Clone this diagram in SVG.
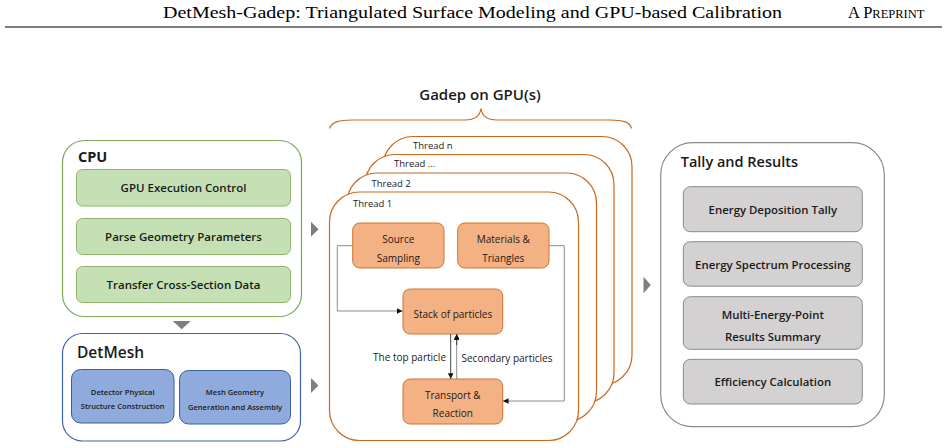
<svg xmlns="http://www.w3.org/2000/svg" width="948" height="448" viewBox="0 0 948 448">
<defs>
<style>
.t{font-family:"Open Sans","Noto Sans",sans-serif;fill:#1a1a1a;}
.hdr{font-family:"Liberation Serif","Times New Roman",serif;fill:#000;}
.green{fill:#c5e0b4;stroke:#8db56c;stroke-width:1;}
.blue{fill:#8faadc;stroke:#3a5f9e;stroke-width:1;}
.orange{fill:#f4b183;stroke:#d0742f;stroke-width:1;}
.gray{fill:#d3d1d1;stroke:#8a8a8a;stroke-width:1;}
.thread{fill:#fff;stroke:#c8691f;stroke-width:1.2;}
.conn{fill:none;stroke:#8c8c8c;stroke-width:1;}
.conn2{fill:none;stroke:#333;stroke-width:0.9;}
.tri{fill:#7f7f7f;}
</style>
<marker id="ah" viewBox="0 0 10 10" refX="10" refY="5" markerWidth="5.5" markerHeight="5.5" orient="auto" markerUnits="userSpaceOnUse"><path d="M0,0 L10,5 L0,10 z" fill="#111"/></marker>
</defs>
<rect width="948" height="448" fill="#fff"/>

<g id="header">
<text class="hdr" x="163" y="18" font-size="16.5" textLength="619" lengthAdjust="spacingAndGlyphs">DetMesh-Gadep: Triangulated Surface Modeling and GPU-based Calibration</text>
<text class="hdr" x="848" y="18" font-size="16.5">A P<tspan font-size="12.5">REPRINT</tspan></text>
<line x1="5" y1="27" x2="942" y2="27" stroke="#000" stroke-width="1.2"/>
</g>

<g id="cpu">
<rect x="62.5" y="140.5" width="239" height="176" rx="22" fill="#fff" stroke="#7aa856" stroke-width="1.2"/>
<text class="t" x="78" y="162" font-size="14.5" font-weight="700">CPU</text>
<g id="cpu-exec"><rect class="green" x="76.5" y="169.5" width="214" height="36.5" rx="6"/>
<text class="t" x="183.5" y="192" font-size="11.5" font-weight="600" text-anchor="middle">GPU Execution Control</text></g>
<g id="cpu-parse"><rect class="green" x="76.5" y="218.5" width="214" height="36" rx="6"/>
<text class="t" x="183.5" y="240.5" font-size="11.5" font-weight="600" text-anchor="middle">Parse Geometry Parameters</text></g>
<g id="cpu-transfer"><rect class="green" x="76.5" y="266.5" width="214" height="36" rx="6"/>
<text class="t" x="183.5" y="289" font-size="11.5" font-weight="600" text-anchor="middle">Transfer Cross-Section Data</text></g>
</g>

<g id="detmesh">
<rect x="62.5" y="333.5" width="238" height="107.5" rx="20" fill="#fff" stroke="#3d64a8" stroke-width="1.2"/>
<text class="t" x="77" y="358" font-size="15.5" font-weight="600">DetMesh</text>
<g id="dm-detector"><rect class="blue" x="71.5" y="369.5" width="102.5" height="53.5" rx="9"/>
<text class="t" x="122.7" y="394.5" font-size="7.6" font-weight="600" text-anchor="middle">Detector Physical</text>
<text class="t" x="122.7" y="409" font-size="7.6" font-weight="600" text-anchor="middle">Structure Construction</text></g>
<g id="dm-mesh"><rect class="blue" x="179.5" y="370.5" width="111" height="53.5" rx="9"/>
<text class="t" x="235" y="395" font-size="7.6" font-weight="600" text-anchor="middle">Mesh Geometry</text>
<text class="t" x="235" y="410" font-size="7.6" font-weight="600" text-anchor="middle">Generation and Assembly</text></g>
</g>

<g id="gadep">
<text class="t" x="480" y="100" font-size="15" font-weight="600" text-anchor="middle">Gadep on GPU(s)</text>
<path d="M329.5,128.5 C332,121.5 340,120 352,120 L465,120 C475,120 480,116 481,108.5 C482,116 487,120 497,120 L610,120 C622,120 630,121.5 631.5,128.5" fill="none" stroke="#c8691f" stroke-width="1.2"/>
<g id="thread-n"><rect class="thread" x="383" y="136.5" width="249" height="248.5" rx="30"/>
<text class="t" x="413" y="148.5" font-size="9.5">Thread n</text></g>
<g id="thread-dots"><rect class="thread" x="365" y="154.5" width="249" height="248.5" rx="30"/>
<text class="t" x="394" y="167" font-size="9.5">Thread ...</text></g>
<g id="thread-2"><rect class="thread" x="347" y="173" width="249.5" height="248.5" rx="30"/>
<text class="t" x="371.5" y="187" font-size="9.5">Thread 2</text></g>
<g id="thread-1"><rect class="thread" x="329.5" y="192" width="249" height="248.5" rx="30"/>
<text class="t" x="353" y="207" font-size="9.5">Thread 1</text></g>

<g id="source"><rect class="orange" x="352.7" y="223" width="91.3" height="45" rx="7"/>
<text class="t" x="398.3" y="242.5" font-size="10" font-weight="500" text-anchor="middle">Source</text>
<text class="t" x="398.3" y="261.5" font-size="10" font-weight="500" text-anchor="middle">Sampling</text></g>
<g id="materials"><rect class="orange" x="457.7" y="223" width="91.3" height="45" rx="7"/>
<text class="t" x="503.3" y="242.5" font-size="10" font-weight="500" text-anchor="middle">Materials &amp;</text>
<text class="t" x="503.3" y="261.5" font-size="10" font-weight="500" text-anchor="middle">Triangles</text></g>
<g id="stack"><rect class="orange" x="403" y="289" width="99.7" height="45" rx="7"/>
<text class="t" x="452.8" y="317.5" font-size="10" font-weight="500" text-anchor="middle">Stack of particles</text></g>
<g id="transport"><rect class="orange" x="403" y="379" width="99.7" height="45" rx="7"/>
<text class="t" x="452.8" y="398.5" font-size="10" font-weight="500" text-anchor="middle">Transport &amp;</text>
<text class="t" x="452.8" y="417" font-size="10" font-weight="500" text-anchor="middle">Reaction</text></g>
</g>

<g id="connectors">
<path class="conn" d="M352.7,245.7 H337.3 V311 H402.5" marker-end="url(#ah)"/>
<path class="conn" d="M549,245.7 H564.3 V401 H503" marker-end="url(#ah)"/>
<path class="conn2" d="M450.7,334 V378.8" marker-end="url(#ah)"/>
<path class="conn" d="M456.7,379 V334.2" marker-end="url(#ah)"/>
<path class="conn2" d="M456.7,345 V334.2" marker-end="url(#ah)"/>
<text class="t" x="446" y="361" font-size="10" font-weight="500" text-anchor="end">The top particle</text>
<text class="t" x="461.5" y="362" font-size="10" font-weight="500">Secondary particles</text>
<polygon class="tri" points="172.7,321 190.7,321 181.7,329.3"/>
<polygon class="tri" points="311,221.7 318.5,229.2 311,236.7"/>
<polygon class="tri" points="311,378 318.5,385.5 311,393"/>
<polygon class="tri" points="643.5,276.7 650.8,285 643.5,293.3"/>
</g>

<g id="tally">
<rect x="660.7" y="142.7" width="223.6" height="284" rx="32" fill="#fff" stroke="#8a8a8a" stroke-width="1.2"/>
<text class="t" x="680.7" y="166.5" font-size="14.5" font-weight="600">Tally and Results</text>
<g id="tally-dep"><rect class="gray" x="683.3" y="186.7" width="179" height="45" rx="7"/>
<text class="t" x="772.8" y="213.5" font-size="11.4" font-weight="600" text-anchor="middle">Energy Deposition Tally</text></g>
<g id="tally-spec"><rect class="gray" x="683.3" y="241.7" width="179" height="44.5" rx="7"/>
<text class="t" x="772.8" y="268.5" font-size="11.4" font-weight="600" text-anchor="middle">Energy Spectrum Processing</text></g>
<g id="tally-multi"><rect class="gray" x="683.3" y="296.7" width="179" height="52.6" rx="7"/>
<text class="t" x="772.8" y="318.5" font-size="11.4" font-weight="600" text-anchor="middle">Multi-Energy-Point</text>
<text class="t" x="772.8" y="341" font-size="11.4" font-weight="600" text-anchor="middle">Results Summary</text></g>
<g id="tally-eff"><rect class="gray" x="683.3" y="359.3" width="179" height="44.7" rx="7"/>
<text class="t" x="772.8" y="385.5" font-size="11.4" font-weight="600" text-anchor="middle">Efficiency Calculation</text></g>
</g>
</svg>
